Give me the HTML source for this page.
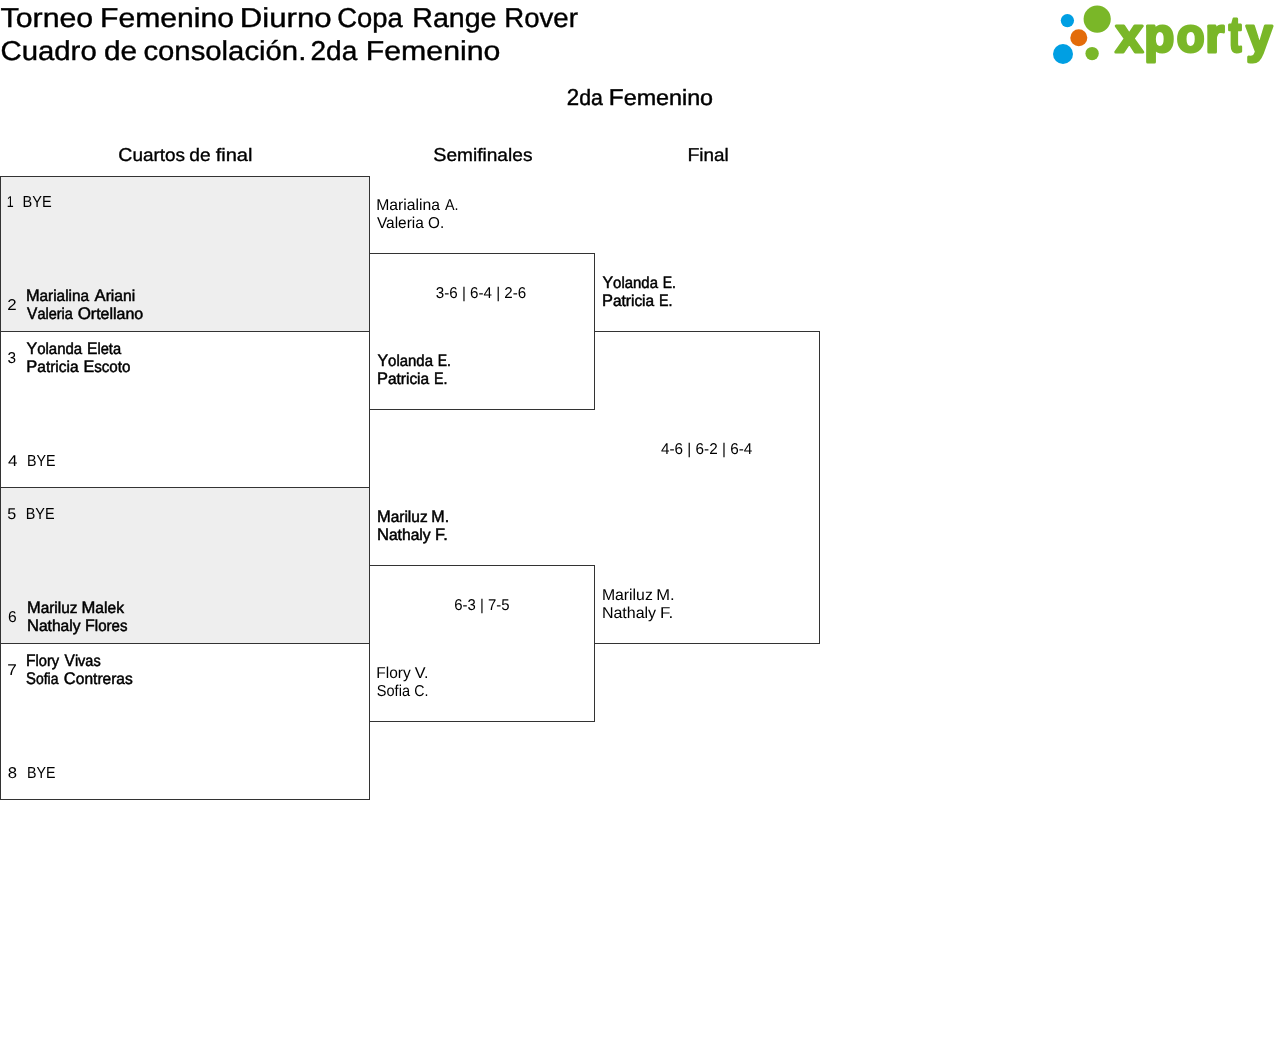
<!DOCTYPE html>
<html lang="es">
<head>
<meta charset="utf-8">
<title>Torneo Femenino Diurno Copa Range Rover</title>
<style>
html,body{margin:0;padding:0;background:#fff;}
body{width:1280px;height:1056px;position:relative;overflow:hidden;font-family:"Liberation Sans",sans-serif;color:#000;}
#page{position:absolute;left:0;top:0;width:1280px;height:1056px;will-change:transform;}
.l{margin:0;padding:0;font-weight:400;text-rendering:geometricPrecision;white-space:nowrap;}
.u1::first-letter{font-size:1.045em;line-height:0;}
.u2::first-letter{font-size:1.035em;line-height:0;}
.u3::first-letter{font-size:1.065em;line-height:0;}
.t{position:absolute;white-space:nowrap;transform-origin:0 0;display:block;}
.ln{position:absolute;background:#333;}
.bg{position:absolute;background:#eee;}
#logo{position:absolute;left:1040px;top:0;width:240px;height:75px;overflow:visible;}
</style>
</head>
<body>
<div id="page">
<div class="bg" style="left:1px;top:177px;width:368px;height:154px"></div>
<div class="bg" style="left:1px;top:488px;width:368px;height:155px"></div>
<div class="ln" style="left:0px;top:176px;width:370px;height:1px"></div>
<div class="ln" style="left:0px;top:331px;width:370px;height:1px"></div>
<div class="ln" style="left:0px;top:487px;width:370px;height:1px"></div>
<div class="ln" style="left:0px;top:643px;width:370px;height:1px"></div>
<div class="ln" style="left:0px;top:799px;width:370px;height:1px"></div>
<div class="ln" style="left:0px;top:176px;width:1px;height:624px"></div>
<div class="ln" style="left:369px;top:176px;width:1px;height:624px"></div>
<div class="ln" style="left:369px;top:253px;width:226px;height:1px"></div>
<div class="ln" style="left:369px;top:409px;width:226px;height:1px"></div>
<div class="ln" style="left:369px;top:565px;width:226px;height:1px"></div>
<div class="ln" style="left:369px;top:721px;width:226px;height:1px"></div>
<div class="ln" style="left:594px;top:253px;width:1px;height:157px"></div>
<div class="ln" style="left:594px;top:565px;width:1px;height:157px"></div>
<div class="ln" style="left:594px;top:331px;width:226px;height:1px"></div>
<div class="ln" style="left:594px;top:643px;width:226px;height:1px"></div>
<div class="ln" style="left:819px;top:331px;width:1px;height:313px"></div>
<svg id="logo" viewBox="1040 0 240 75" role="img" aria-label="xporty">
<circle cx="1097.2" cy="19.1" r="13.6" fill="#7ab728"/>
<circle cx="1067.4" cy="20.6" r="6.65" fill="#009fe3"/>
<circle cx="1078.8" cy="37.8" r="8.5" fill="#e36c0a"/>
<circle cx="1063" cy="54" r="10" fill="#009fe3"/>
<circle cx="1092.1" cy="53.6" r="6.7" fill="#7ab728"/>
<text y="52.20" font-family="Liberation Sans, sans-serif" font-weight="700" font-size="48" fill="#7ab728" stroke="#7ab728" stroke-width="3" stroke-linejoin="round"><tspan x="1115.46" font-size="47.8" textLength="27.60" lengthAdjust="spacingAndGlyphs">x</tspan><tspan x="1144.26" font-size="48.3" textLength="30.00" lengthAdjust="spacingAndGlyphs">p</tspan><tspan x="1176.63" font-size="47.5" textLength="27.75" lengthAdjust="spacingAndGlyphs">o</tspan><tspan x="1205.53" font-size="47.6" textLength="18.69" lengthAdjust="spacingAndGlyphs">r</tspan><tspan x="1228.63" font-size="50.3" textLength="12.73" lengthAdjust="spacingAndGlyphs">t</tspan><tspan x="1246.33" font-size="48.3" textLength="26.12" lengthAdjust="spacingAndGlyphs">y</tspan></text>
</svg>
<h1 class="l" style="font-size:27.2px;line-height:33px;-webkit-text-stroke:0.4px #000;"><span class="t" id="t0" style="left:0px;top:1px;transform:matrix(1.1138,0,0,1,0.60,0)">Torneo</span> <span class="t" id="t1" style="left:99px;top:1px;transform:matrix(1.1081,0,0,1,0.99,0)">Femenino</span> <span class="t" id="t2" style="left:239px;top:1px;transform:matrix(1.1481,0,0,1,0.75,0)">Diurno</span> <span class="t" id="t3" style="left:337px;top:1px;transform:matrix(1.0078,0,0,1,0.19,0)">Copa</span> <span class="t" id="t4" style="left:412px;top:1px;transform:matrix(1.0513,0,0,1,0.24,0)">Range</span> <span class="t" id="t5" style="left:504px;top:1px;transform:matrix(1.0150,0,0,1,0.22,0)">Rover</span></h1>
<h1 class="l" style="font-size:27.2px;line-height:33px;-webkit-text-stroke:0.4px #000;"><span class="t" id="t6" style="left:0px;top:34px;transform:matrix(1.0787,0,0,1,0.51,0)">Cuadro</span> <span class="t" id="t7" style="left:103px;top:34px;transform:matrix(1.0956,0,0,1,0.90,0)">de</span> <span class="t" id="t8" style="left:143px;top:34px;transform:matrix(1.0775,0,0,1,0.42,0)">consolación.</span> <span class="t" id="t9" style="left:310px;top:34px;transform:matrix(1.0315,0,0,1,0.52,0)">2da</span> <span class="t" id="t10" style="left:365px;top:34px;transform:matrix(1.1136,0,0,1,0.77,0)">Femenino</span></h1>
<h2 class="l" style="font-size:22px;line-height:26px;-webkit-text-stroke:0.45px #000;"><span class="t u1" id="t11" style="left:566px;top:85px;transform:matrix(0.9671,0,0,1,0.78,0)">2da</span> <span class="t u1" id="t12" style="left:608px;top:85px;transform:matrix(1.0594,0,0,1,0.80,0)">Femenino</span></h2>
<h3 class="l" style="font-size:18px;line-height:22px;-webkit-text-stroke:0.35px #000;"><span class="t u2" id="t13" style="left:118px;top:144px;transform:matrix(1.0530,0,0,1,0.21,0)">Cuartos</span> <span class="t" id="t14" style="left:189px;top:144px;transform:matrix(1.0660,0,0,1,0.22,0)">de</span> <span class="t" id="t15" style="left:215px;top:144px;transform:matrix(1.1166,0,0,1,0.63,0)">final</span></h3>
<h3 class="l" style="font-size:18px;line-height:22px;-webkit-text-stroke:0.35px #000;"><span class="t u2" id="t16" style="left:433px;top:144px;transform:matrix(1.0618,0,0,1,0.20,0)">Semifinales</span></h3>
<h3 class="l" style="font-size:18px;line-height:22px;-webkit-text-stroke:0.35px #000;"><span class="t u2" id="t17" style="left:687px;top:144px;transform:matrix(1.0473,0,0,1,0.44,0)">Final</span></h3>
<div class="l" style="font-size:15.6px;line-height:19px;"><span class="t" id="t18" style="left:6px;top:193px;transform:matrix(0.8000,0,0,1,0.66,0)">1</span></div>
<div class="l" style="font-size:16px;line-height:19px;"><span class="t" id="t19" style="left:22px;top:193px;transform:matrix(0.9083,0,0,1,0.61,0)">BYE</span></div>
<div class="l" style="font-size:15.6px;line-height:19px;"><span class="t" id="t20" style="left:7px;top:296px;transform:matrix(1.0834,0,0,1,0.19,0)">2</span></div>
<div class="l" style="font-size:15.8px;line-height:19px;-webkit-text-stroke:0.5px #000;"><span class="t u3" id="t21" style="left:25px;top:287px;transform:matrix(0.9727,0,0,1,0.88,0)">Marialina</span> <span class="t u3" id="t22" style="left:94px;top:287px;transform:matrix(0.9878,0,0,1,0.59,0)">Ariani</span></div>
<div class="l" style="font-size:15.8px;line-height:19px;-webkit-text-stroke:0.5px #000;"><span class="t u3" id="t23" style="left:27px;top:305px;transform:matrix(0.9174,0,0,1,0.09,0)">Valeria</span> <span class="t u3" id="t24" style="left:77px;top:305px;transform:matrix(1.0110,0,0,1,0.64,0)">Ortellano</span></div>
<div class="l" style="font-size:15.6px;line-height:19px;"><span class="t" id="t25" style="left:7px;top:349px;transform:matrix(0.9868,0,0,1,0.41,0)">3</span></div>
<div class="l" style="font-size:15.8px;line-height:19px;-webkit-text-stroke:0.5px #000;"><span class="t u3" id="t26" style="left:26px;top:340px;transform:matrix(0.9492,0,0,1,0.50,0)">Yolanda</span> <span class="t u3" id="t27" style="left:86px;top:340px;transform:matrix(0.9287,0,0,1,0.98,0)">Eleta</span></div>
<div class="l" style="font-size:15.8px;line-height:19px;-webkit-text-stroke:0.5px #000;"><span class="t u3" id="t28" style="left:26px;top:358px;transform:matrix(0.9809,0,0,1,0.27,0)">Patricia</span> <span class="t u3" id="t29" style="left:83px;top:358px;transform:matrix(0.9590,0,0,1,0.39,0)">Escoto</span></div>
<div class="l" style="font-size:15.6px;line-height:19px;"><span class="t" id="t30" style="left:7px;top:452px;transform:matrix(1.0885,0,0,1,0.97,0)">4</span></div>
<div class="l" style="font-size:16px;line-height:19px;"><span class="t" id="t31" style="left:27px;top:452px;transform:matrix(0.8900,0,0,1,0.05,0)">BYE</span></div>
<div class="l" style="font-size:15.6px;line-height:19px;"><span class="t" id="t32" style="left:7px;top:505px;transform:matrix(1.0345,0,0,1,0.37,0)">5</span></div>
<div class="l" style="font-size:16px;line-height:19px;"><span class="t" id="t33" style="left:25px;top:505px;transform:matrix(0.9017,0,0,1,0.73,0)">BYE</span></div>
<div class="l" style="font-size:15.6px;line-height:19px;"><span class="t" id="t34" style="left:8px;top:608px;transform:matrix(1.0000,0,0,1,0.00,0)">6</span></div>
<div class="l" style="font-size:15.8px;line-height:19px;-webkit-text-stroke:0.5px #000;"><span class="t u3" id="t35" style="left:26px;top:599px;transform:matrix(0.9780,0,0,1,0.92,0)">Mariluz</span> <span class="t u3" id="t36" style="left:81px;top:599px;transform:matrix(0.9870,0,0,1,0.52,0)">Malek</span></div>
<div class="l" style="font-size:15.8px;line-height:19px;-webkit-text-stroke:0.5px #000;"><span class="t u3" id="t37" style="left:26px;top:617px;transform:matrix(0.9860,0,0,1,0.92,0)">Nathaly</span> <span class="t u3" id="t38" style="left:85px;top:617px;transform:matrix(0.9535,0,0,1,0.06,0)">Flores</span></div>
<div class="l" style="font-size:15.6px;line-height:19px;"><span class="t" id="t39" style="left:7px;top:661px;transform:matrix(1.1005,0,0,1,0.31,0)">7</span></div>
<div class="l" style="font-size:15.8px;line-height:19px;-webkit-text-stroke:0.5px #000;"><span class="t u3" id="t40" style="left:25px;top:652px;transform:matrix(0.9286,0,0,1,0.93,0)">Flory</span> <span class="t u3" id="t41" style="left:64px;top:652px;transform:matrix(0.9172,0,0,1,0.59,0)">Vivas</span></div>
<div class="l" style="font-size:15.8px;line-height:19px;-webkit-text-stroke:0.5px #000;"><span class="t u3" id="t42" style="left:26px;top:670px;transform:matrix(0.8836,0,0,1,0.06,0)">Sofia</span> <span class="t u3" id="t43" style="left:63px;top:670px;transform:matrix(0.9827,0,0,1,0.86,0)">Contreras</span></div>
<div class="l" style="font-size:15.6px;line-height:19px;"><span class="t" id="t44" style="left:7px;top:764px;transform:matrix(1.0690,0,0,1,0.70,0)">8</span></div>
<div class="l" style="font-size:16px;line-height:19px;"><span class="t" id="t45" style="left:27px;top:764px;transform:matrix(0.8900,0,0,1,0.05,0)">BYE</span></div>
<div class="l" style="font-size:15.8px;line-height:19px;"><span class="t" id="t46" style="left:376px;top:196px;transform:matrix(0.9960,0,0,1,0.25,0)">Marialina</span> <span class="t" id="t47" style="left:445px;top:196px;transform:matrix(0.9074,0,0,1,0.00,0)">A.</span></div>
<div class="l" style="font-size:15.8px;line-height:19px;"><span class="t" id="t48" style="left:376px;top:214px;transform:matrix(0.9780,0,0,1,0.90,0)">Valeria</span> <span class="t" id="t49" style="left:428px;top:214px;transform:matrix(0.9655,0,0,1,0.03,0)">O.</span></div>
<div class="l" style="font-size:15.6px;line-height:19px;"><span class="t" id="t50" style="left:435px;top:284px;transform:matrix(0.9722,0,0,1,0.76,0)">3-6 | 6-4 | 2-6</span></div>
<div class="l" style="font-size:15.8px;line-height:19px;-webkit-text-stroke:0.5px #000;"><span class="t u3" id="t51" style="left:377px;top:352px;transform:matrix(0.9458,0,0,1,0.50,0)">Yolanda</span> <span class="t u3" id="t52" style="left:437px;top:352px;transform:matrix(0.8302,0,0,1,0.71,0)">E.</span></div>
<div class="l" style="font-size:15.8px;line-height:19px;-webkit-text-stroke:0.5px #000;"><span class="t u3" id="t53" style="left:376px;top:370px;transform:matrix(0.9791,0,0,1,0.92,0)">Patricia</span> <span class="t u3" id="t54" style="left:433px;top:370px;transform:matrix(0.8491,0,0,1,0.94,0)">E.</span></div>
<div class="l" style="font-size:15.8px;line-height:19px;-webkit-text-stroke:0.5px #000;"><span class="t u3" id="t55" style="left:376px;top:508px;transform:matrix(0.9800,0,0,1,0.92,0)">Mariluz</span> <span class="t u3" id="t56" style="left:431px;top:508px;transform:matrix(0.9508,0,0,1,0.31,0)">M.</span></div>
<div class="l" style="font-size:15.8px;line-height:19px;-webkit-text-stroke:0.5px #000;"><span class="t u3" id="t57" style="left:376px;top:526px;transform:matrix(0.9888,0,0,1,0.91,0)">Nathaly</span> <span class="t u3" id="t58" style="left:435px;top:526px;transform:matrix(0.9768,0,0,1,0.02,0)">F.</span></div>
<div class="l" style="font-size:15.6px;line-height:19px;"><span class="t" id="t59" style="left:454px;top:596px;transform:matrix(0.9558,0,0,1,0.28,0)">6-3 | 7-5</span></div>
<div class="l" style="font-size:15.8px;line-height:19px;"><span class="t" id="t60" style="left:376px;top:664px;transform:matrix(0.9793,0,0,1,0.28,0)">Flory</span> <span class="t" id="t61" style="left:414px;top:664px;transform:matrix(1.0257,0,0,1,0.74,0)">V.</span></div>
<div class="l" style="font-size:15.8px;line-height:19px;"><span class="t" id="t62" style="left:376px;top:682px;transform:matrix(0.9220,0,0,1,0.81,0)">Sofia</span> <span class="t" id="t63" style="left:414px;top:682px;transform:matrix(0.8947,0,0,1,0.33,0)">C.</span></div>
<div class="l" style="font-size:15.8px;line-height:19px;-webkit-text-stroke:0.5px #000;"><span class="t u3" id="t64" style="left:602px;top:274px;transform:matrix(0.9458,0,0,1,0.50,0)">Yolanda</span> <span class="t u3" id="t65" style="left:662px;top:274px;transform:matrix(0.8302,0,0,1,0.71,0)">E.</span></div>
<div class="l" style="font-size:15.8px;line-height:19px;-webkit-text-stroke:0.5px #000;"><span class="t u3" id="t66" style="left:601px;top:292px;transform:matrix(0.9791,0,0,1,0.92,0)">Patricia</span> <span class="t u3" id="t67" style="left:658px;top:292px;transform:matrix(0.8491,0,0,1,0.94,0)">E.</span></div>
<div class="l" style="font-size:15.6px;line-height:19px;"><span class="t" id="t68" style="left:661px;top:440px;transform:matrix(0.9805,0,0,1,0.00,0)">4-6 | 6-2 | 6-4</span></div>
<div class="l" style="font-size:15.8px;line-height:19px;"><span class="t" id="t69" style="left:601px;top:586px;transform:matrix(1.0000,0,0,1,0.90,0)">Mariluz</span> <span class="t" id="t70" style="left:656px;top:586px;transform:matrix(1.0470,0,0,1,0.19,0)">M.</span></div>
<div class="l" style="font-size:15.8px;line-height:19px;"><span class="t" id="t71" style="left:601px;top:604px;transform:matrix(1.0125,0,0,1,0.88,0)">Nathaly</span> <span class="t" id="t72" style="left:659px;top:604px;transform:matrix(1.0789,0,0,1,0.90,0)">F.</span></div>
</div>
</body>
</html>
